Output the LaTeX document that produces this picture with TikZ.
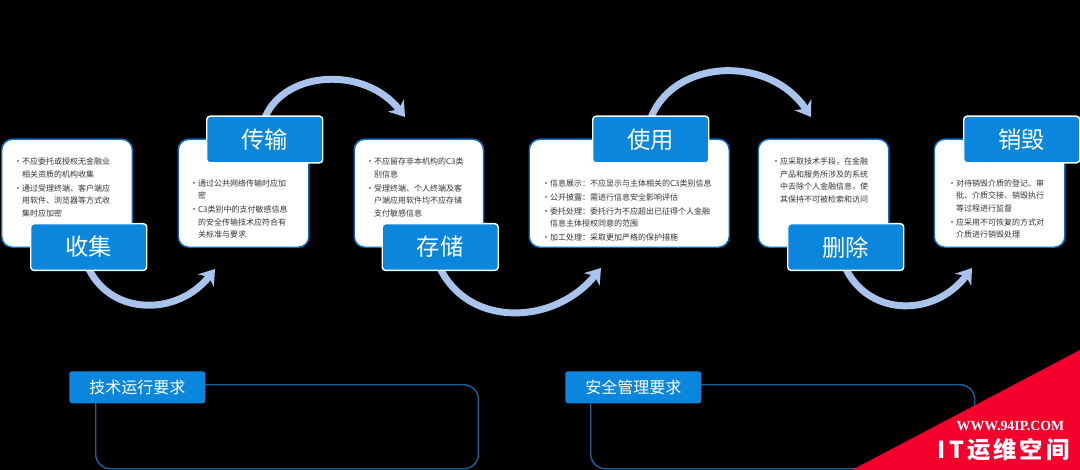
\documentclass[tikz,border=0pt]{standalone}
\usepackage{fontspec}
\setmainfont{Noto Sans CJK SC}
\newfontfamily\wmfont{Liberation Serif}[BoldFont={Liberation Serif Bold}]
\usetikzlibrary{arrows.meta,calc,backgrounds}
\definecolor{mainblue}{HTML}{0A86DC}
\definecolor{edgeblue}{HTML}{0A6CC0}
\definecolor{darkedge}{HTML}{1A5E9A}
\definecolor{arrowblue}{HTML}{A9C4EC}
\definecolor{wmred}{HTML}{F5002D}
\definecolor{bodytext}{HTML}{333333}
\newcommand{\fc}{^^^^ff1a}
\newcommand{\fk}{^^^^ff0c}
\newcommand{\bl}{\hbox to 4.4pt{\kern-1.6pt\fontsize{6}{5}\selectfont •\hss}}
\newcommand{\nb}{\hbox to 4.4pt{\hss}}
\newcommand{\rowgap}{\\[1.2pt]}
\tikzset{
  panel/.style={draw=edgeblue,line width=1.1pt,fill=white,rounded corners=8pt,minimum height=81pt,anchor=north west,inner sep=0pt},
  tag/.style={draw=white,line width=1.1pt,fill=mainblue,rounded corners=2.5pt,minimum width=87pt,minimum height=35pt,anchor=north west,text=white,font=\fontsize{17.5}{20}\selectfont,inner sep=0pt},
  bodytxt/.style={anchor=north west,inner sep=0pt,text=bodytext,font=\fontsize{6}{9.3}\selectfont},
  flow/.style={arrowblue,line width=5.2pt,-{Stealth[length=11pt,width=15pt,inset=3.5pt]}},
  reqbox/.style={draw=darkedge,line width=1.1pt,rounded corners=11pt,anchor=north west,inner sep=0pt,minimum height=63pt},
  reqtag/.style={fill=mainblue,rounded corners=2pt,minimum width=102pt,minimum height=24pt,anchor=north west,text=white,font=\fontsize{12}{14}\selectfont,inner sep=0pt}
}
\begin{document}
\begin{tikzpicture}[x=0.75pt,y=-0.75pt]
\useasboundingbox (0,0) rectangle (1080,470);

\node[panel,minimum width=98pt] (p1) at (1,138.5) {};
\node[panel,minimum width=98pt] (p2) at (177.5,138.5) {};
\node[panel,minimum width=97pt] (p3) at (353.5,138.5) {};
\node[panel,minimum width=150pt] (p4) at (528.5,138.5) {};
\node[panel,minimum width=98pt] (p5) at (757.5,138.5) {};
\node[panel,minimum width=98pt] (p6) at (933.5,138.5) {};

\node[bodytxt] (t1) at (16,156) {\begin{tabular}{@{}l@{}l@{}}\bl&不应委托或授权无金融业\\\nb&相关资质的机构收集\rowgap\bl&通过受理终端、客户端应\\\nb&用软件、浏览器等方式收\\\nb&集时应加密\end{tabular}};
\node[bodytxt] (t2) at (192,177.5) {\begin{tabular}{@{}l@{}l@{}}\bl&通过公共网络传输时应加\\\nb&密\rowgap\bl&C3类别中的支付敏感信息\\\nb&的安全传输技术应符合有\\\nb&关标准与要求\end{tabular}};
\node[bodytxt] (t3) at (368,156) {\begin{tabular}{@{}l@{}l@{}}\bl&不应留存非本机构的C3类\\\nb&别信息\rowgap\bl&受理终端、个人终端及客\\\nb&户端应用软件均不应存储\\\nb&支付敏感信息\end{tabular}};
\node[bodytxt] (t4) at (544,177.5) {\begin{tabular}{@{}l@{}l@{}}\bl&信息展示\fc{}不应显示与主体相关的C3类别信息\rowgap\bl&公开披露\fc{}需进行信息安全影响评估\rowgap\bl&委托处理\fc{}委托行为不应超出已征得个人金融\\\nb&信息主体授权同意的范围\rowgap\bl&加工处理\fc{}采取更加严格的保护措施\end{tabular}};
\node[bodytxt] (t5) at (774,156) {\begin{tabular}{@{}l@{}l@{}}\bl&应采取技术手段\fk{}在金融\\\nb&产品和服务所涉及的系统\\\nb&中去除个人金融信息\fk{}使\\\nb&其保持不可被检索和访问\end{tabular}};
\node[bodytxt] (t6) at (950,177.5) {\begin{tabular}{@{}l@{}l@{}}\bl&对待销毁介质的登记、审\\\nb&批、介质交接、销毁执行\\\nb&等过程进行监督\rowgap\bl&应采用不可恢复的方式对\\\nb&介质进行销毁处理\end{tabular}};

\node[tag] (s1) at (30,223) {收集};
\node[tag] (s2) at (206,115.5) {传输};
\node[tag] (s3) at (381.5,223) {存储};
\node[tag] (s4) at (592,115.5) {使用};
\node[tag] (s5) at (787,223) {删除};
\node[tag] (s6) at (963,115.5) {销毁};

\coordinate (e1) at (215,269);
\coordinate (e2) at (405,117);
\coordinate (e3) at (601,268);
\coordinate (e4) at (811,117);
\coordinate (e5) at (972,268);
\begin{scope}[on background layer]
\fill[black] (0,0) rectangle (1080,470);
\draw[flow] ($(s1.south west)+(59,-2)$) .. controls (112,316) and (178,316) .. (e1);
\draw[flow] ($(s2.north west)+(59,2)$) .. controls (285,70) and (365,66) .. (e2);
\draw[flow] ($(s3.south west)+(59,-2)$) .. controls (470,328) and (555,325) .. (e3);
\draw[flow] ($(s4.north west)+(59,2)$) .. controls (675,58) and (770,55) .. (e4);
\draw[flow] ($(s5.south west)+(59,-2)$) .. controls (870,317) and (935,317) .. (e5);
\end{scope}

\node[reqbox,minimum width=287pt] (r1) at (95,384) {};
\node[reqbox,minimum width=288pt] (r2) at (590,384) {};
\node[reqtag] (q1) at (69,371) {技术运行要求};
\node[reqtag] (q2) at (565,371) {安全管理要求};

\fill[wmred] (1080,350) -- (1080,470) -- (852,470) -- cycle;
\node[anchor=center,inner sep=0pt,text=white,font=\wmfont\bfseries\fontsize{10.4}{12}\selectfont] (w1) at (1010.5,426) {WWW.94IP.COM};
\node[anchor=center,inner sep=0pt,text=white,font=\bfseries\fontsize{17.5}{20}\selectfont] (w2) at (1003.5,450) {I\hspace{3pt}T\hspace{2pt}运\hspace{2pt}维\hspace{2.5pt}空\hspace{2.5pt}间};
\end{tikzpicture}
\end{document}
